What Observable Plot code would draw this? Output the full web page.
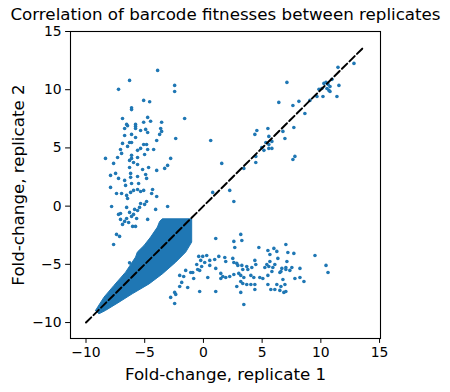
<!DOCTYPE html>
<html><head><meta charset="utf-8">
<script src="https://cdn.jsdelivr.net/npm/d3@7"></script>
<script src="https://cdn.jsdelivr.net/npm/@observablehq/plot@0.6"></script>
<style>body{margin:0;background:#fff}</style>
</head><body><div id="chart"></div>
<script>
const title = "Correlation of barcode fitnesses between replicates";
const xLabel = "Fold-change, replicate 1";
const yLabel = "Fold-change, replicate 2";
const xTicks = [-10, -5, 0, 5, 10, 15];
const yTicks = [-10, -5, 0, 5, 10, 15];
const diagonal = [-10.0, 13.7];

// outline of the saturated dense core of barcodes (data units)
const denseCore = [[-9.19,-8.96],[-8.47,-7.82],[-7.62,-6.81],[-6.63,-5.67],[-5.78,-4.38],[-5.63,-3.95],[-5.06,-3.38],[-4.5,-2.66],[-3.92,-1.8],[-3.73,-1.31],[-3.5,-1.09],[-1.0,-1.09],[-1.0,-3.09],[-1.51,-3.95],[-2.36,-4.81],[-3.5,-5.82],[-4.63,-6.68],[-6.06,-7.53],[-7.19,-8.25],[-8.34,-8.96],[-8.9,-9.25],[-9.19,-8.96]];

const upperLeftHigh = [[-3.9,11.66],[-6.29,10.8],[-7.23,10.03],[-2.45,10.37],[-2.45,9.85],[-5.09,9.08],[-4.58,8.96],[-6.12,8.45],[-6.12,8.29],[-6.89,7.53],[-4.75,7.62],[-6.54,7.02],[-6.46,6.9],[-5.09,7.2],[-4.5,7.29],[-3.56,7.2],[-1.6,7.53],[-5.78,7.02],[-5.78,6.85],[-6.71,6.67],[-5.78,6.67],[-5.35,6.5],[-4.92,6.59],[-4.75,6.33],[-3.64,6.67],[-3.56,6.42],[-3.73,6.16],[-6.71,6.07],[-6.12,6.16],[-5.78,5.9],[-3.98,5.64],[-2.36,5.81],[-6.89,5.39],[-6.29,5.47],[-6.12,5.47],[-6.46,5.13],[-5.09,5.3],[-4.84,5.3],[-7.06,4.87],[-5.61,4.79],[-5.35,4.96],[-4.75,4.87],[-4.24,4.87],[-5.01,4.44],[-8.34,4.1],[-7.31,4.18],[-6.12,4.36],[-6.12,4.1],[-5.61,4.18],[-2.79,4.1]];

const upperLeftLow = [[-6.97,4.53],[-7.65,3.67],[-6.29,3.93],[-5.95,3.75],[-5.61,3.58],[-6.29,3.32],[-5.18,3.15],[-4.67,3.32],[-3.98,3.07],[-3.3,3.24],[-3.05,3.5],[-7.91,2.64],[-7.48,2.81],[-7.23,2.38],[-6.71,2.21],[-6.2,2.81],[-6.2,2.47],[-5.61,2.55],[-4.92,2.72],[-4.84,2.38],[-6.12,1.95],[-5.52,1.95],[-7.91,1.61],[-6.63,1.78],[-5.95,1.35],[-5.61,1.43],[-5.35,1.26],[-5.09,1.35],[-7.4,1.09],[-6.97,1.09],[-6.54,0.92],[-6.2,1.18],[-4.33,1.43],[-4.41,1.09],[-3.98,0.83],[-6.46,0.66],[-5.35,0.23],[-5.44,-0.11],[-4.84,0.4],[-5.01,0.15],[-7.82,-0.03],[-6.54,-0.11],[-5.86,-0.28],[-5.61,-0.37],[-4.07,-0.28],[-3.05,-0.03],[-7.23,-0.71],[-7.06,-0.63],[-6.29,-0.54],[-5.95,-0.71],[-6.12,-0.88],[-7.06,-1.14],[-6.54,-1.06],[-5.69,-1.06],[-4.75,-1.14],[-6.71,-1.31],[-6.37,-1.4],[-6.89,-1.57],[-6.03,-1.74],[-5.78,-1.74],[-7.4,-2.43],[-7.14,-2.6],[-7.65,-3.29],[-6.29,-4.87]];

const lowerRight = [[1.05,-2.78],[2.59,-3.03],[3.27,-2.95],[3.18,-2.43],[2.67,-3.55],[4.72,-3.55],[-0.4,-4.32],[-0.06,-4.32],[0.28,-4.24],[1.31,-4.32],[1.82,-4.41],[-0.23,-4.66],[0.11,-4.84],[0.54,-4.66],[0.96,-4.58],[-0.57,-5.01],[-0.15,-5.18],[0.54,-5.09],[1.05,-5.35],[-0.49,-5.44],[-0.32,-5.52],[1.9,-4.75],[2.5,-4.49],[2.59,-4.84],[2.84,-4.92],[2.93,-5.09],[3.27,-5.09],[3.35,-5.44],[3.69,-5.18],[3.78,-5.44],[4.12,-5.27],[4.38,-4.66],[4.46,-5.01],[5.23,-5.27],[-1.51,-5.52],[-1.08,-5.7],[-0.91,-5.7],[-2.02,-5.95],[-1.68,-6.04],[-0.83,-6.21],[0.37,-6.13],[1.48,-5.78],[1.65,-6.04],[1.9,-6.13],[2.24,-6.04],[2.59,-5.87],[3.01,-5.78],[3.18,-5.95],[3.44,-6.13],[4.04,-5.95],[4.29,-6.13],[4.8,-6.13],[5.06,-6.21],[1.48,-6.21],[3.18,-6.47],[3.35,-6.64],[3.69,-6.73],[4.04,-6.73],[4.38,-6.73],[-1.85,-6.55],[-2.02,-6.9],[-1.34,-6.99],[2.84,-6.9],[4.38,-7.16],[-0.32,-7.33],[1.05,-7.33],[3.18,-7.41],[-2.45,-7.41],[-2.36,-7.58],[-2.79,-7.84],[-2.45,-8.36],[3.44,-8.45],
[7.02,-3.29],[5.49,-3.81],[6.0,-3.63],[6.25,-3.89],[7.19,-3.98],[7.7,-4.06],[5.66,-4.15],[9.5,-4.24],[6.34,-4.49],[5.66,-4.75],[7.11,-4.75],[5.4,-5.01],[6.08,-5.01],[5.57,-5.18],[5.91,-5.27],[6.68,-5.35],[7.02,-5.27],[7.02,-5.44],[7.53,-5.27],[7.36,-5.52],[8.22,-5.35],[10.44,-5.09],[10.61,-5.7],[5.83,-5.61],[6.51,-5.7],[6.6,-5.61],[5.49,-5.95],[7.79,-6.21],[8.22,-6.13],[8.56,-6.47],[6.77,-6.3],[5.49,-6.73],[6.25,-6.73],[6.94,-6.73],[6.6,-6.9],[5.74,-7.16],[6.08,-7.16],[6.51,-7.24],[6.85,-7.41],[7.02,-7.33]];

const alongDiagonal = [[12.82,12.26],[11.46,11.92],[7.11,10.63],[10.26,10.54],[10.44,10.63],[10.61,10.46],[10.78,10.28],[10.95,10.89],[10.09,10.11],[10.52,10.11],[10.69,9.94],[11.54,10.37],[9.84,10.03],[10.78,9.85],[9.67,9.42],[10.18,9.42],[11.37,9.42],[6.42,8.91],[7.62,8.65],[8.13,9.0],[9.07,9.08],[8.64,7.96],[0.62,5.64],[4.55,6.5],[4.38,6.16],[5.49,6.67],[6.77,6.42],[7.7,6.76],[5.57,5.99],[6.94,5.81],[5.83,5.56],[5.32,5.47],[4.97,5.04],[5.57,5.3],[5.57,4.96],[5.83,4.96],[5.15,4.79],[4.46,4.27],[4.46,3.75],[3.44,3.24],[7.79,4.27],[7.62,4.01],[1.56,3.67],[0.79,1.18],[2.24,1.35],[2.59,0.4]];

const points = [...upperLeftHigh, ...upperLeftLow, ...lowerRight, ...alongDiagonal];
const blue = "#1f77b4";

const chart = Plot.plot({
  width: 450, height: 392,
  marginLeft: 70, marginRight: 70, marginTop: 31, marginBottom: 54,
  style: {fontFamily: "DejaVu Sans", background: "white", color: "black", overflow: "visible"},
  x: {domain: [-11.32, 15.08]},
  y: {domain: [-11.37, 15.0]},
  marks: [
    Plot.line(denseCore, {x: d => d[0], y: d => d[1], fill: blue, stroke: blue, strokeWidth: 1, strokeLinejoin: "round"}),
    Plot.dot(points, {x: d => d[0], y: d => d[1], r: 1.8, fill: blue, stroke: null}),
    Plot.line(diagonal, {x: d => d, y: d => d, stroke: "black", strokeWidth: 2, strokeDasharray: "7.4,3.2"}),
    Plot.frame({stroke: "black", strokeWidth: 1.1}),
    Plot.axisX({ticks: xTicks, tickSize: 4.9, tickPadding: 4, fontSize: 13.9, label: null}),
    Plot.axisY({ticks: yTicks, tickSize: 4.9, tickPadding: 4, fontSize: 13.9, label: null}),
    Plot.text([xLabel], {text: d => d, frameAnchor: "bottom", lineAnchor: "middle", textAnchor: "middle", dy: 36, fontSize: 16.7}),
    Plot.text([yLabel], {text: d => d, frameAnchor: "left", lineAnchor: "middle", textAnchor: "middle", rotate: -90, dx: -52, fontSize: 16.7}),
    Plot.text([title], {text: d => d, frameAnchor: "top", lineAnchor: "middle", textAnchor: "middle", dy: -17, fontSize: 16.7})
  ]
});
document.getElementById("chart").append(chart);
</script>
</body></html>
